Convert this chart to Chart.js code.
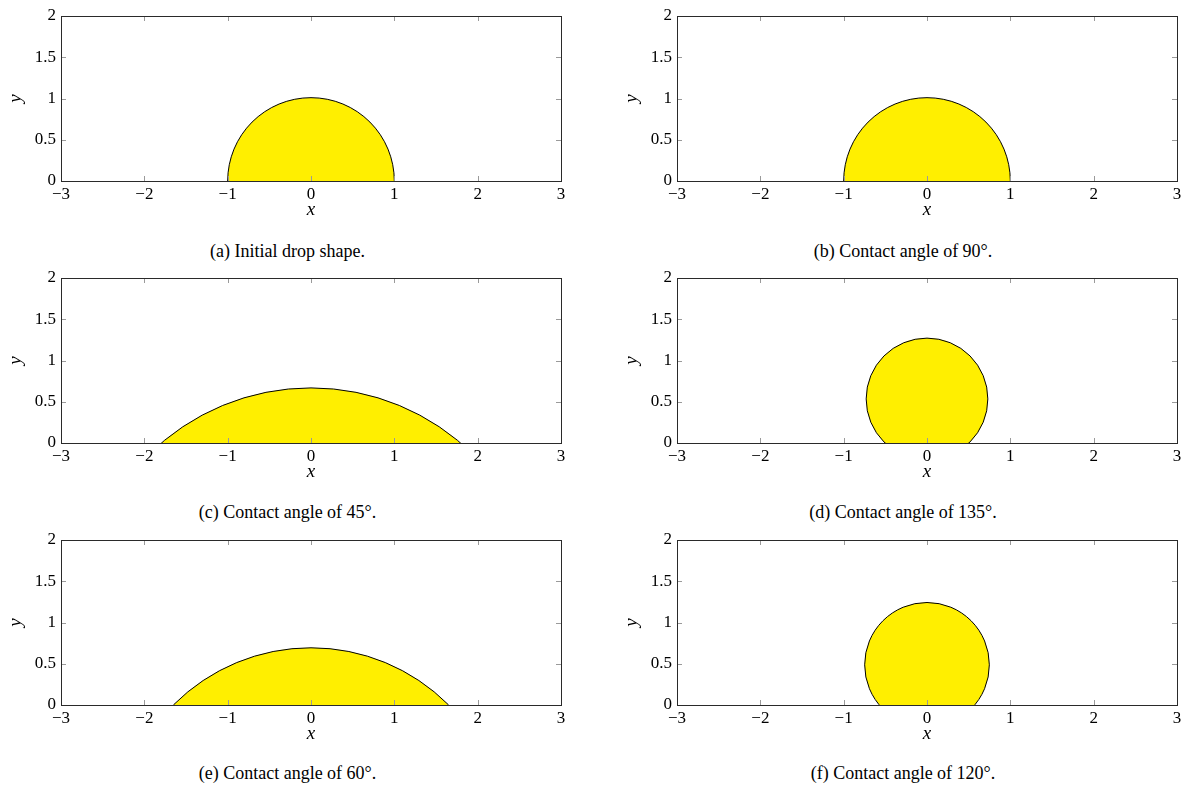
<!DOCTYPE html>
<html>
<head>
<meta charset="utf-8">
<script src="https://cdn.jsdelivr.net/npm/chart.js@4/dist/chart.umd.min.js"></script>
<style>
    body { margin: 0; background: #fff; }
    .page { position: relative; width: 1187px; height: 785px; }
    .panel { position: absolute; width: 571px; height: 230px; }
    .panel canvas { display: block; width: 571px; height: 230px; }
    .caption {
        position: absolute;
        width: 400px;
        text-align: center;
        font-family: 'Liberation Serif', serif;
        font-size: 18px;
        line-height: 18px;
        color: #000;
    }
</style>
</head>
<body>
<div class="page" id="page"></div>
<script>
// drop shapes: circle centre and radius (in axis units) for each panel
const captions = [
    '(a) Initial drop shape.',
    '(b) Contact angle of 90°.',
    '(c) Contact angle of 45°.',
    '(d) Contact angle of 135°.',
    '(e) Contact angle of 60°.',
    '(f) Contact angle of 120°.'
];
const centerX = [0, 0, 0, 0, 0, 0];
const centerY = [0, 0, -2.13, 0.534, -1.66, 0.487];
const dropRadius = [1, 1, 2.77, 0.73, 2.33, 0.748];

const xTicks = [-3, -2, -1, 0, 1, 2, 3];
const yTicks = [0, 0.5, 1, 1.5, 2];
const xTitle = 'x';
const yTitle = 'y';

const panelLeft = [0, 616];
const panelTop = [0, 262, 524];
const captionCenter = [287.5, 903];
const captionTop = [242, 503, 764];

const tickFont = "17px 'Liberation Serif'";
const titleFont = "italic 19px 'Liberation Serif'";

function tickText(v) {
    return v < 0 ? '\u2212' + Math.abs(v) : String(v);
}

// frame, inward ticks on all four sides, tick labels and axis titles
const frameTicks = {
    id: 'frameTicks',
    afterDraw(chart) {
        const ctx = chart.ctx;
        const a = chart.chartArea;
        const x = chart.scales.x;
        const y = chart.scales.y;
        const len = 5;
        ctx.save();
        ctx.lineWidth = 1;
        ctx.strokeStyle = '#9a9a9a';
        ctx.beginPath();
        x.ticks.forEach(t => {
            if (t.value === x.min || t.value === x.max) return;
            const px = Math.round(x.getPixelForValue(t.value)) + 0.5;
            ctx.moveTo(px, a.bottom);
            ctx.lineTo(px, a.bottom - len);
            ctx.moveTo(px, a.top);
            ctx.lineTo(px, a.top + len);
        });
        y.ticks.forEach(t => {
            if (t.value === y.min || t.value === y.max) return;
            const py = Math.round(y.getPixelForValue(t.value)) + 0.5;
            ctx.moveTo(a.left, py);
            ctx.lineTo(a.left + len, py);
            ctx.moveTo(a.right, py);
            ctx.lineTo(a.right - len, py);
        });
        ctx.stroke();
        ctx.strokeStyle = '#2a2a2a';
        ctx.strokeRect(Math.round(a.left) + 0.5, Math.round(a.top) + 0.5,
            Math.round(a.right - a.left), Math.round(a.bottom - a.top));

        ctx.fillStyle = '#000';
        ctx.font = tickFont;
        ctx.textBaseline = 'middle';
        ctx.textAlign = 'center';
        x.ticks.forEach(t => {
            ctx.fillText(tickText(t.value), x.getPixelForValue(t.value), a.bottom + 14);
        });
        ctx.textAlign = 'right';
        y.ticks.forEach(t => {
            ctx.fillText(tickText(t.value), a.left - 5, y.getPixelForValue(t.value));
        });

        ctx.font = titleFont;
        ctx.textAlign = 'center';
        ctx.fillText(xTitle, (a.left + a.right) / 2, a.bottom + 29);
        ctx.translate(16, (a.top + a.bottom) / 2);
        ctx.rotate(-Math.PI / 2);
        ctx.fillText(yTitle, 0, 0);
        ctx.restore();
    }
};

function createChart(canvas, i) {
    const data = {
        datasets: [{
            data: [{ x: centerX[i], y: centerY[i] }],
            backgroundColor: '#FFEF00',
            borderColor: '#000',
            borderWidth: 1,
            // radius given in x units, turned into pixels by the scale
            pointRadius: function(c) {
                const s = c.chart.scales.x;
                return s.getPixelForValue(dropRadius[i]) - s.getPixelForValue(0);
            },
            pointHoverRadius: 0,
            clip: 0
        }]
    };

    const config = {
        type: 'scatter',
        data: data,
        options: {
            responsive: false,
            animation: false,
            events: [],
            layout: { padding: { top: 16, right: 10, left: 0, bottom: 0 } },
            plugins: { legend: { display: false }, tooltip: { enabled: false } },
            scales: {
                x: {
                    type: 'linear',
                    min: -3,
                    max: 3,
                    afterBuildTicks: s => { s.ticks = xTicks.map(v => ({ value: v })); },
                    afterFit: s => { s.height = 49; },
                    grid: { display: false, drawTicks: false },
                    border: { display: false },
                    ticks: { display: false }
                },
                y: {
                    type: 'linear',
                    min: 0,
                    max: 2,
                    afterBuildTicks: s => { s.ticks = yTicks.map(v => ({ value: v })); },
                    afterFit: s => { s.width = 61; },
                    grid: { display: false, drawTicks: false },
                    border: { display: false },
                    ticks: { display: false }
                }
            }
        },
        plugins: [frameTicks]
    };

    return new Chart(canvas.getContext('2d'), config);
}

const page = document.getElementById('page');
for (let i = 0; i < captions.length; i++) {
    const col = i % 2;
    const row = Math.floor(i / 2);

    const wrap = document.createElement('div');
    wrap.className = 'panel';
    wrap.style.left = panelLeft[col] + 'px';
    wrap.style.top = panelTop[row] + 'px';
    const canvas = document.createElement('canvas');
    canvas.width = 571;
    canvas.height = 230;
    wrap.appendChild(canvas);
    page.appendChild(wrap);

    const cap = document.createElement('div');
    cap.className = 'caption';
    cap.style.left = (captionCenter[col] - 200) + 'px';
    cap.style.top = captionTop[row] + 'px';
    cap.textContent = captions[i];
    page.appendChild(cap);

    createChart(canvas, i);
}
</script>
</body>
</html>
